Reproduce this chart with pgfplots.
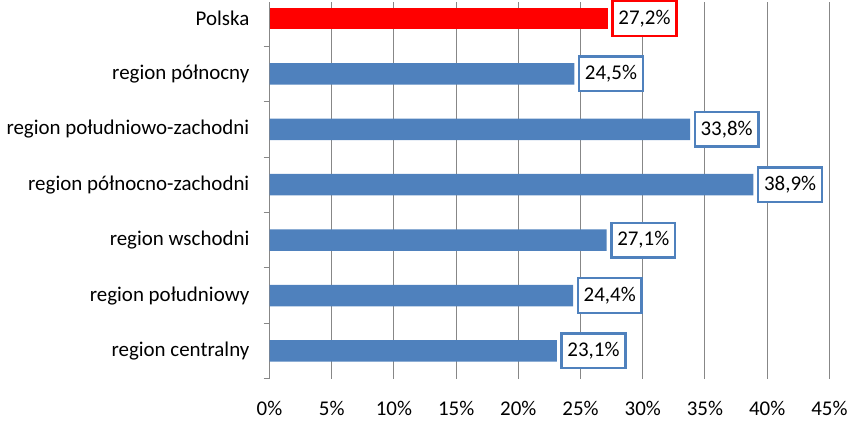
\documentclass[border=0pt]{standalone}
\usepackage{pgfplots}
\pgfplotsset{compat=1.18}
\usepackage{fontspec}
\setmainfont{Carlito}
\definecolor{barblue}{HTML}{4F81BD}
\definecolor{barred}{HTML}{FF0000}
\definecolor{gridgray}{HTML}{878787}
\begin{document}
\begin{tikzpicture}
\begin{axis}[
  scale only axis,
  width=286pt, height=192.5pt,
  xbar, bar width=11pt,
  xmin=0, xmax=45,
  ymin=-0.5, ymax=6.3,
  axis lines*=left,
  x axis line style={draw=none},
  y axis line style={draw=gridgray, line width=0.5pt},
  xmajorgrids,
  grid style={draw=gridgray, line width=0.5pt},
  xtick={0,5,...,45},
  xticklabels={0\%,5\%,10\%,15\%,20\%,25\%,30\%,35\%,40\%,45\%},
  xtick style={draw=none},
  xticklabel style={yshift=-3.5pt},
  ytick={0,1,2,3,4,5,6},
  yticklabels={region centralny,region południowy,region wschodni,region północno-zachodni,region południowo-zachodni,region północny,Polska},
  ytick style={draw=none},
  yticklabel style={xshift=-2.5pt},
  minor ytick={-0.5,0.5,1.5,2.5,3.5,4.5,5.5},
  minor tick length=3pt,
  tick align=outside,
  minor y tick style={draw=gridgray, line width=0.5pt},
  ticklabel style={font=\fontsize{10.7}{12}\selectfont, text=black},
  /pgf/number format/assume math mode=true,
  nodes near coords={\pgfmathprintnumber[fixed,fixed zerofill,precision=1,use comma]{\pgfplotspointmeta}\%},
  nodes near coords align={horizontal},
  every node near coord/.append style={font=\fontsize{10.7}{12}\selectfont, fill=white, line width=1.2pt, inner xsep=3pt, inner ysep=4.5pt, xshift=1.8pt, text=black},
]
\addplot[fill=barblue, draw=none, bar shift=0pt, every node near coord/.append style={draw=barblue}]
  coordinates {(23.1,0) (24.4,1) (27.1,2) (38.9,3) (33.8,4) (24.5,5)};
\addplot[fill=barred, draw=none, bar shift=0pt, every node near coord/.append style={draw=barred}]
  coordinates {(27.2,6)};
\end{axis}
\end{tikzpicture}
\end{document}
